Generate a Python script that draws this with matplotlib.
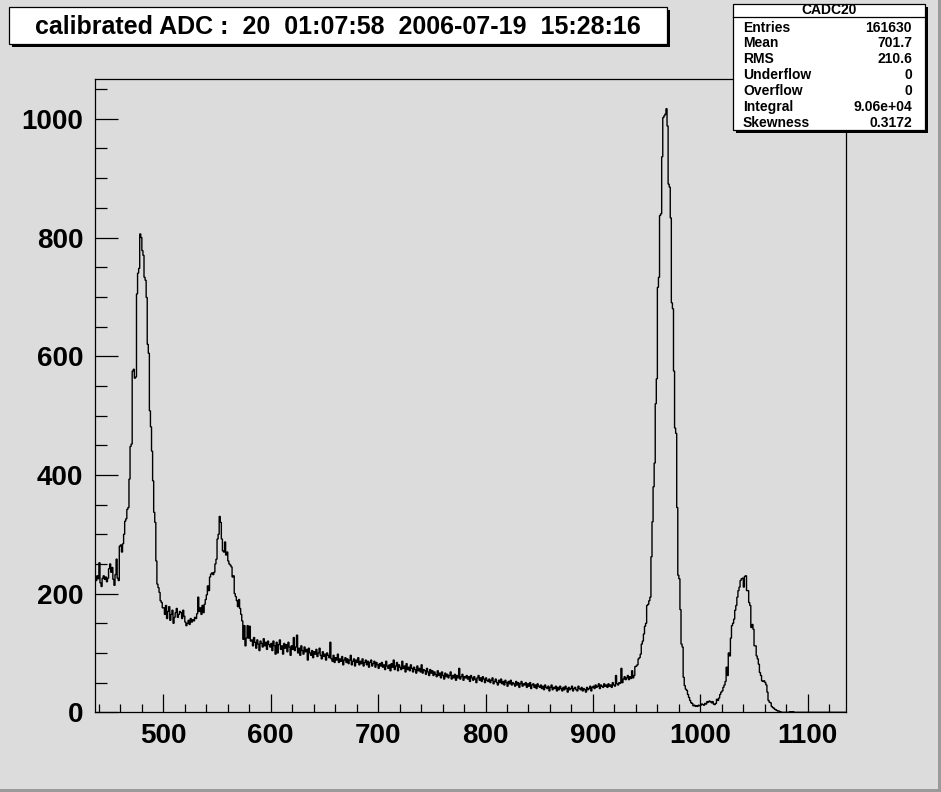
import numpy as np
import matplotlib
matplotlib.use("Agg")
import matplotlib.pyplot as plt
from matplotlib.patches import Rectangle
from matplotlib.ticker import MultipleLocator

# ---------------- data ----------------
bin_lo = 436          # low edge of first bin, bin width 1
counts = [
    228, 222, 230, 225, 252, 218, 212, 226, 230, 224,   # 436
    228, 220, 226, 242, 250, 236, 244, 224, 214, 232,   # 446
    258, 226, 222, 280, 282, 270, 284, 300, 322, 326,   # 456
    342, 345, 393, 448, 452, 575, 578, 563, 565, 705,   # 466
    740, 748, 806, 800, 778, 770, 733, 728, 699, 620,   # 476
    605, 508, 481, 440, 390, 337, 320, 255, 216, 210,   # 486
    202, 188, 185, 176, 176, 165, 180, 158, 170, 178,   # 496
    155, 165, 172, 150, 160, 168, 175, 160, 165, 170,   # 506
    168, 158, 172, 162, 152, 146, 150, 155, 148, 158,   # 516
    152, 156, 154, 160, 158, 166, 194, 170, 176, 165,   # 526
    180, 168, 182, 190, 198, 213, 205, 228, 233, 235,   # 536
    232, 236, 250, 258, 292, 300, 330, 320, 292, 272,   # 546
    270, 287, 265, 270, 255, 250, 248, 245, 228, 230,   # 556
    200, 195, 188, 178, 190, 175, 165, 154, 123, 146,   # 566
    112, 125, 146, 125, 145, 120, 122, 112, 126, 118,   # 576
    108, 122, 115, 104, 120, 116, 110, 124, 112, 118,   # 586
    106, 120, 114, 110, 116, 104, 120, 112, 98, 118,    # 596
    100, 114, 122, 106, 112, 98, 116, 108, 114, 102,    # 606
    118, 110, 96, 112, 106, 126, 104, 110, 130, 100,    # 616
    108, 96, 112, 104, 98, 110, 102, 106, 88, 108,      # 626
    100, 96, 104, 92, 102, 98, 106, 94, 100, 108,       # 636
    96, 90, 102, 94, 98, 88, 100, 96, 92, 118,          # 646
    90, 86, 96, 84, 92, 88, 98, 84, 90, 86,             # 656
    94, 80, 88, 92, 84, 90, 82, 88, 96, 80,             # 666
    86, 90, 78, 88, 84, 92, 80, 86, 82, 90,             # 676
    78, 84, 88, 80, 86, 76, 84, 88, 78, 82,             # 686
    86, 76, 84, 80, 74, 82, 78, 84, 76, 80,             # 696
    72, 86, 78, 74, 80, 70, 82, 76, 88, 72,             # 706
    78, 84, 70, 80, 76, 72, 86, 74, 78, 68,             # 716
    82, 72, 76, 70, 80, 74, 68, 76, 72, 66,             # 726
    78, 70, 74, 68, 80, 66, 72, 70, 64, 74,             # 736
    68, 62, 72, 66, 70, 62, 68, 64, 60, 70,             # 746
    62, 66, 58, 68, 62, 56, 66, 60, 64, 58,             # 756
    62, 68, 56, 62, 58, 64, 54, 62, 58, 74,             # 766
    56, 60, 64, 54, 60, 58, 62, 56, 60, 52,             # 776
    62, 58, 54, 60, 56, 50, 58, 62, 54, 58,             # 786
    52, 60, 56, 50, 58, 54, 52, 56, 50, 54,             # 796
    58, 48, 52, 56, 50, 46, 54, 50, 56, 48,             # 806
    52, 46, 54, 50, 44, 52, 48, 54, 46, 50,             # 816
    48, 44, 52, 46, 50, 42, 48, 52, 44, 48,             # 826
    46, 50, 42, 48, 44, 50, 40, 46, 48, 42,             # 836
    46, 40, 48, 44, 42, 46, 40, 44, 38, 46,             # 846
    42, 40, 44, 36, 42, 46, 38, 42, 40, 44,             # 856
    36, 42, 38, 44, 40, 36, 42, 38, 44, 40,             # 866
    34, 42, 38, 40, 44, 36, 40, 42, 38, 36,             # 876
    44, 40, 38, 42, 36, 40, 38, 34, 42, 38,             # 886
    40, 44, 36, 42, 44, 40, 46, 42, 44, 48,             # 896
    40, 46, 44, 42, 48, 44, 46, 42, 48, 44,             # 906
    46, 42, 50, 46, 44, 62, 48, 46, 50, 49,             # 916
    74, 50, 56, 60, 55, 58, 62, 55, 60, 57,             # 926
    70, 58, 62, 77, 78, 80, 90, 92, 98, 115,            # 936
    120, 132, 145, 150, 180, 182, 188, 194, 262, 321,   # 946
    380, 420, 520, 562, 716, 733, 837, 840, 936, 1002,  # 956
    1005, 1008, 1017, 988, 890, 885, 833, 690, 680, 575,  # 966
    479, 470, 345, 231, 225, 173, 115, 110, 59, 45,     # 976
    39, 37, 30, 25, 20, 16, 15, 11, 12, 10,             # 986
    11, 10, 12, 11, 12, 14, 13, 12, 15, 14,             # 996
    18, 17, 19, 18, 16, 18, 14, 13, 15, 22,             # 1006
    20, 24, 30, 34, 36, 42, 46, 52, 76, 62,             # 1016
    100, 95, 125, 146, 150, 157, 172, 180, 194, 205,    # 1026
    211, 222, 225, 226, 211, 229, 230, 205, 205, 185,   # 1036
    180, 143, 148, 140, 112, 112, 95, 90, 81, 67,       # 1046
    62, 53, 52, 53, 50, 46, 34, 20, 17, 16,             # 1056
    10, 8, 7, 5, 4, 3, 2, 2, 1, 0,                      # 1066
    0, 0, 0, 0, 0, 0, 0, 1, 0, 1,                       # 1076
    1, 0, 0, 0, 0, 0, 0, 0, 0, 0,                       # 1086
    0, 0, 0, 0, 0, 0, 0, 0, 0, 0,                       # 1096
    0, 0, 0, 0, 0, 0, 0, 0, 0, 0,                       # 1106
    0, 0, 0, 0, 0, 0, 0, 0, 0, 0,                       # 1116
    0, 0, 0, 0, 0, 0, 0, 0, 0, 0,                       # 1126
]

title_text = "calibrated ADC :  20  01:07:58  2006-07-19  15:28:16"
stats_name = "CADC20"
stats_labels = ["Entries", "Mean", "RMS", "Underflow", "Overflow", "Integral", "Skewness"]
stats_values = ["161630", "701.7", "210.6", "0", "0", "9.06e+04", "0.3172"]
x_major = [500, 600, 700, 800, 900, 1000, 1100]
y_major = [0, 200, 400, 600, 800, 1000]

# ---------------- style ----------------
W, H = 941, 792
BG = "#dcdcdc"
FONT = ["Liberation Sans", "DejaVu Sans"]

def fx(px):
    return px / W

def fy(py):
    return 1 - py / H

fig = plt.figure(figsize=(W / 100, H / 100), dpi=100, facecolor=BG)

ax_l, ax_r, ax_t, ax_b = 94.6, 846.4, 79.3, 712.3
ax = fig.add_axes([fx(ax_l), fy(ax_b), fx(ax_r - ax_l), (ax_b - ax_t) / H])
ax.set_facecolor(BG)

edges = np.arange(bin_lo, bin_lo + len(counts) + 1)
ax.stairs(counts, edges, color="black", lw=1.0, baseline=None)

ax.set_xlim(436, 1136)
ax.set_ylim(0, 1066.6)
ax.set_xticks(x_major)
ax.set_yticks(y_major)
ax.xaxis.set_minor_locator(MultipleLocator(20))
ax.yaxis.set_minor_locator(MultipleLocator(50))
for s in ax.spines.values():
    s.set_linewidth(0.9)
    s.set_color("black")
ax.tick_params(axis="both", which="both", direction="in", top=False, right=False,
               width=0.9, color="black")
ax.tick_params(axis="y", which="major", length=16.3, pad=8)
ax.tick_params(axis="y", which="minor", length=8.4)
ax.tick_params(axis="x", which="major", length=13.2, pad=8)
ax.tick_params(axis="x", which="minor", length=6.0)
for lab in ax.get_xticklabels() + ax.get_yticklabels():
    lab.set_fontfamily(FONT)
    lab.set_fontweight("bold")
    lab.set_fontsize(20)

# ---------------- title box ----------------
def box(x0, y0, x1, y1, shadow=3):
    fig.add_artist(Rectangle((fx(x0 + shadow), fy(y1 + shadow)),
                             fx(x1 - x0), (y1 - y0) / H,
                             transform=fig.transFigure, facecolor="black",
                             edgecolor="black", lw=0))
    fig.add_artist(Rectangle((fx(x0), fy(y1)), fx(x1 - x0), (y1 - y0) / H,
                             transform=fig.transFigure, facecolor="white",
                             edgecolor="black", lw=0.9))

box(9, 7, 667, 44)
fig.text(fx(338), fy(26.5), title_text, ha="center", va="center",
         fontsize=18, fontweight="bold", family=FONT)

# ---------------- stats box ----------------
box(733, 4, 925, 130)
fig.add_artist(plt.Line2D([fx(733), fx(925)], [fy(16.5), fy(16.5)],
                          transform=fig.transFigure, color="black", lw=0.9))
fig.text(fx(829), fy(10.5), stats_name, ha="center", va="center",
         fontsize=10, fontweight="bold", family=FONT)
for i, (lab, val) in enumerate(zip(stats_labels, stats_values)):
    yy = 27.5 + i * 15.9
    fig.text(fx(743), fy(yy), lab, ha="left", va="center",
             fontsize=10, fontweight="bold", family=FONT)
    fig.text(fx(912), fy(yy), val, ha="right", va="center",
             fontsize=10, fontweight="bold", family=FONT)

# ---------------- canvas border ----------------
fig.add_artist(Rectangle((fx(938), 0), fx(3), 1, transform=fig.transFigure,
                         facecolor="#9a9a9a", lw=0))
fig.add_artist(Rectangle((0, 0), 1, 3 / H, transform=fig.transFigure,
                         facecolor="#9a9a9a", lw=0))

fig.savefig("out.png", dpi=100, facecolor=BG)
